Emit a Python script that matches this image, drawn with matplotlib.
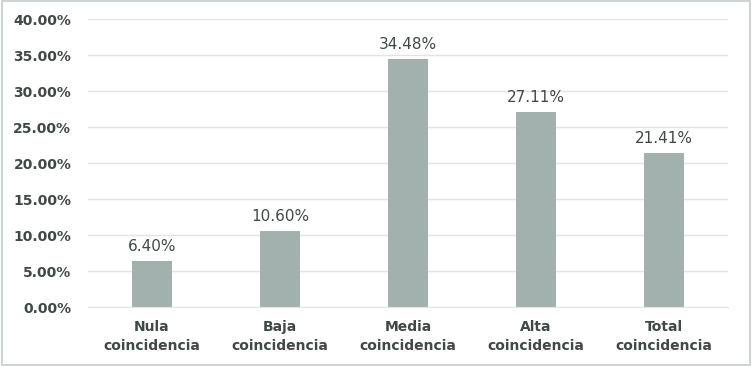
import matplotlib
matplotlib.use("Agg")
import matplotlib.pyplot as plt
from matplotlib.patches import Rectangle

categories = ["Nula\ncoincidencia", "Baja\ncoincidencia", "Media\ncoincidencia",
              "Alta\ncoincidencia", "Total\ncoincidencia"]
values = [6.40, 10.60, 34.48, 27.11, 21.41]
yticks = [0, 5, 10, 15, 20, 25, 30, 35, 40]

_BAR = "#a2b1ad"
_TEXT = "#404848"
_GRID = "#e3e3e3"

fig = plt.figure(figsize=(7.52, 3.66), dpi=100)
ax = fig.add_axes([0.117, 0.161, 0.851, 0.787])

x = range(len(categories))
ax.bar(x, values, width=0.31, color=_BAR, zorder=2)
for i, v in enumerate(values):
    ax.text(i, v + 1.0, f"{v:.2f}%", ha="center", va="bottom",
            fontsize=11, color=_TEXT)

ax.set_xlim(-0.5, len(categories) - 0.5)
ax.set_ylim(0, 40)
ax.set_yticks(yticks)
ax.set_yticklabels([f"{t:.2f}%" for t in yticks], fontsize=10,
                   fontweight="bold", color=_TEXT)
ax.set_xticks(list(x))
ax.set_xticklabels(categories, fontsize=10, fontweight="bold",
                   color=_TEXT, linespacing=1.5)
ax.tick_params(axis="both", length=0)
ax.tick_params(axis="y", pad=12)
ax.tick_params(axis="x", pad=9)
ax.grid(axis="y", color=_GRID, linewidth=1, zorder=0)
for s in ["top", "right", "left"]:
    ax.spines[s].set_visible(False)
ax.spines["bottom"].set_color(_GRID)

fig.patches.append(Rectangle((0.002, 0.004), 0.995, 0.992, transform=fig.transFigure,
                             fill=False, edgecolor="#d0d4d4", linewidth=1.5))

fig.savefig("out.png", dpi=100)
